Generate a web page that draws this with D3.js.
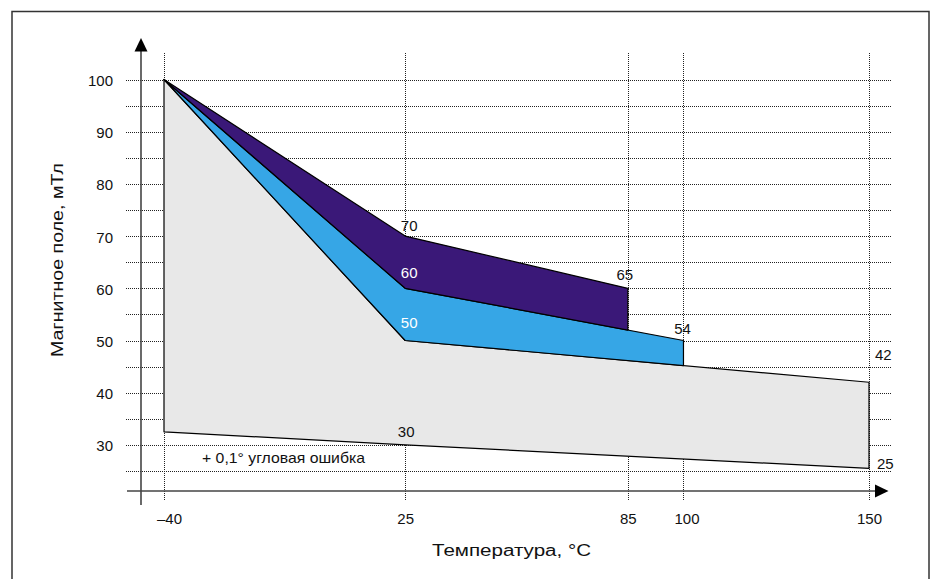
<!DOCTYPE html>
<html>
<head>
<meta charset="utf-8">
<script src="https://cdn.jsdelivr.net/npm/d3@7"></script>
<style>
  body { margin: 0; background: #fff; }
  text { font-family: "Liberation Sans", Arial, sans-serif; fill: #111; }
</style>
</head>
<body>
<div id="chart"></div>
<script>
// Chart data
var xTicks = [-40, 25, 85, 100, 150];
var xTickLabels = ["\u201340", "25", "85", "100", "150"];
var yTicks = [30, 40, 50, 60, 70, 80, 90, 100];
var yGrid = d3.range(25, 101, 5);

// band outlines: top edge, then bottom edge (both left to right)
var grayTop = [[-40, 100], [25, 50], [150, 42]];
var grayBottom = [[-40, 32.5], [25, 30], [150, 25.5]];
var blueTop = [[-40, 100], [25, 60], [100, 50]];
var blueBottom = [[-40, 100], [25, 50], [100, 45.2]];
var purpleTop = [[-40, 100], [25, 70], [85, 60]];
var purpleBottom = [[-40, 100], [25, 60], [85, 52]];

// value labels
var valueLabels = ["70", "60", "50", "65", "54", "42", "25", "30"];
var valueAt = [[25, 70], [25, 60], [25, 50], [85, 60], [100, 50], [150, 42], [150, 25.5], [25, 30]];

var svgWidth = 936;
var svgHeight = 579;

var svg = d3.select("#chart")
    .append("svg")
    .attr("width", svgWidth)
    .attr("height", svgHeight);

// outer frame
svg.append("rect")
    .attr("x", 12)
    .attr("y", 11.5)
    .attr("width", 917)
    .attr("height", 620)
    .attr("fill", "none")
    .attr("stroke", "#333")
    .attr("stroke-width", 1.5);

var x = d3.scaleLinear().domain([-40, 150]).range([164, 869]);
var y = d3.scaleLinear().domain([25, 100]).range([471, 79.5]);

// dotted grid
var grid = svg.append("g")
    .attr("stroke", "#222")
    .attr("stroke-width", 1)
    .attr("stroke-dasharray", "1,1");

grid.selectAll("line.h")
    .data(yGrid)
    .enter()
    .append("line")
    .attr("x1", 126)
    .attr("x2", 891)
    .attr("y1", d => Math.round(y(d)) + 0.5)
    .attr("y2", d => Math.round(y(d)) + 0.5);

grid.selectAll("line.v")
    .data(xTicks)
    .enter()
    .append("line")
    .attr("x1", d => Math.round(x(d)) + 0.5)
    .attr("x2", d => Math.round(x(d)) + 0.5)
    .attr("y1", 53)
    .attr("y2", 501);

// bands
function band(top, bottom) {
    return top.concat(bottom.slice().reverse());
}
var line = d3.line().x(d => x(d[0])).y(d => y(d[1]));

var bands = [
    {pts: band(grayTop, grayBottom), fill: "#e8e8e8"},
    {pts: band(blueTop, blueBottom), fill: "#36a6e6"},
    {pts: band(purpleTop, purpleBottom), fill: "#3a1878"}
];

svg.selectAll("path.band")
    .data(bands)
    .enter()
    .append("path")
    .attr("class", "band")
    .attr("d", d => line(d.pts) + "Z")
    .attr("fill", d => d.fill)
    .attr("stroke", "#000")
    .attr("stroke-width", 1.2)
    .attr("stroke-linejoin", "round");

// axes lines with arrows
var axisColor = "#444";
svg.append("line")
    .attr("x1", 141).attr("x2", 141)
    .attr("y1", 48).attr("y2", 505)
    .attr("stroke", axisColor).attr("stroke-width", 1.6);
svg.append("path")
    .attr("d", "M141,38 L134.5,51.5 L147.5,51.5 Z")
    .attr("fill", "#000");

svg.append("line")
    .attr("x1", 127).attr("x2", 878)
    .attr("y1", 491).attr("y2", 491)
    .attr("stroke", axisColor).attr("stroke-width", 1.6);
svg.append("path")
    .attr("d", "M888.5,491 L875,484.5 L875,497.5 Z")
    .attr("fill", "#000");

// tick labels through d3 axes
var leftAxis = d3.axisLeft(y).tickValues(yTicks).tickSize(0).tickPadding(0);
var yAxisG = svg.append("g")
    .attr("transform", "translate(113,0)")
    .call(leftAxis);
yAxisG.select(".domain").remove();
yAxisG.selectAll("text")
    .attr("font-size", 15)
    .attr("font-family", "Liberation Sans, Arial, sans-serif")
    .attr("fill", "#111")
    .attr("dy", "0.4em");

var bottomAxis = d3.axisBottom(x).tickValues(xTicks).tickSize(0).tickPadding(0)
    .tickFormat((d, i) => xTickLabels[i]);
var xAxisG = svg.append("g")
    .attr("transform", "translate(0,513)")
    .call(bottomAxis);
xAxisG.select(".domain").remove();
xAxisG.selectAll("text")
    .attr("font-size", 15)
    .attr("font-family", "Liberation Sans, Arial, sans-serif")
    .attr("fill", "#111")
    .attr("dx", (d, i) => i === 0 ? 5 : (i === 3 ? 3 : 0));

// value labels near the band corners
var labelDx = [4, 4, 4, -3, -1, 6, 8, 1];
var labelDy = [-5, -10.5, -12.5, -8, -6.5, -22, 1, -7.5];
var labelAnchor = ["middle", "middle", "middle", "middle", "middle", "start", "start", "middle"];
var labelFill = ["#111", "#fff", "#fff", "#111", "#111", "#111", "#111", "#111"];

svg.selectAll("text.val")
    .data(valueLabels)
    .enter()
    .append("text")
    .attr("class", "val")
    .attr("x", (d, i) => x(valueAt[i][0]) + labelDx[i])
    .attr("y", (d, i) => y(valueAt[i][1]) + labelDy[i])
    .attr("text-anchor", (d, i) => labelAnchor[i])
    .attr("font-size", 15)
    .style("fill", (d, i) => labelFill[i])
    .text(d => d);

svg.append("text")
    .attr("x", 202)
    .attr("y", 462.5)
    .attr("font-size", 15)
    .attr("textLength", 163)
    .attr("lengthAdjust", "spacingAndGlyphs")
    .text("+ 0,1\u00b0 угловая ошибка");

// axis titles (the original lettering is a bit wide)
svg.append("text")
    .attr("x", 432)
    .attr("y", 556)
    .attr("font-size", 16)
    .attr("textLength", 159)
    .attr("lengthAdjust", "spacingAndGlyphs")
    .text("Температура, \u00b0C");

svg.append("text")
    .attr("transform", "translate(63,357) rotate(-90)")
    .attr("font-size", 16)
    .attr("textLength", 194)
    .attr("lengthAdjust", "spacingAndGlyphs")
    .text("Магнитное поле, мТл");
</script>
</body>
</html>
